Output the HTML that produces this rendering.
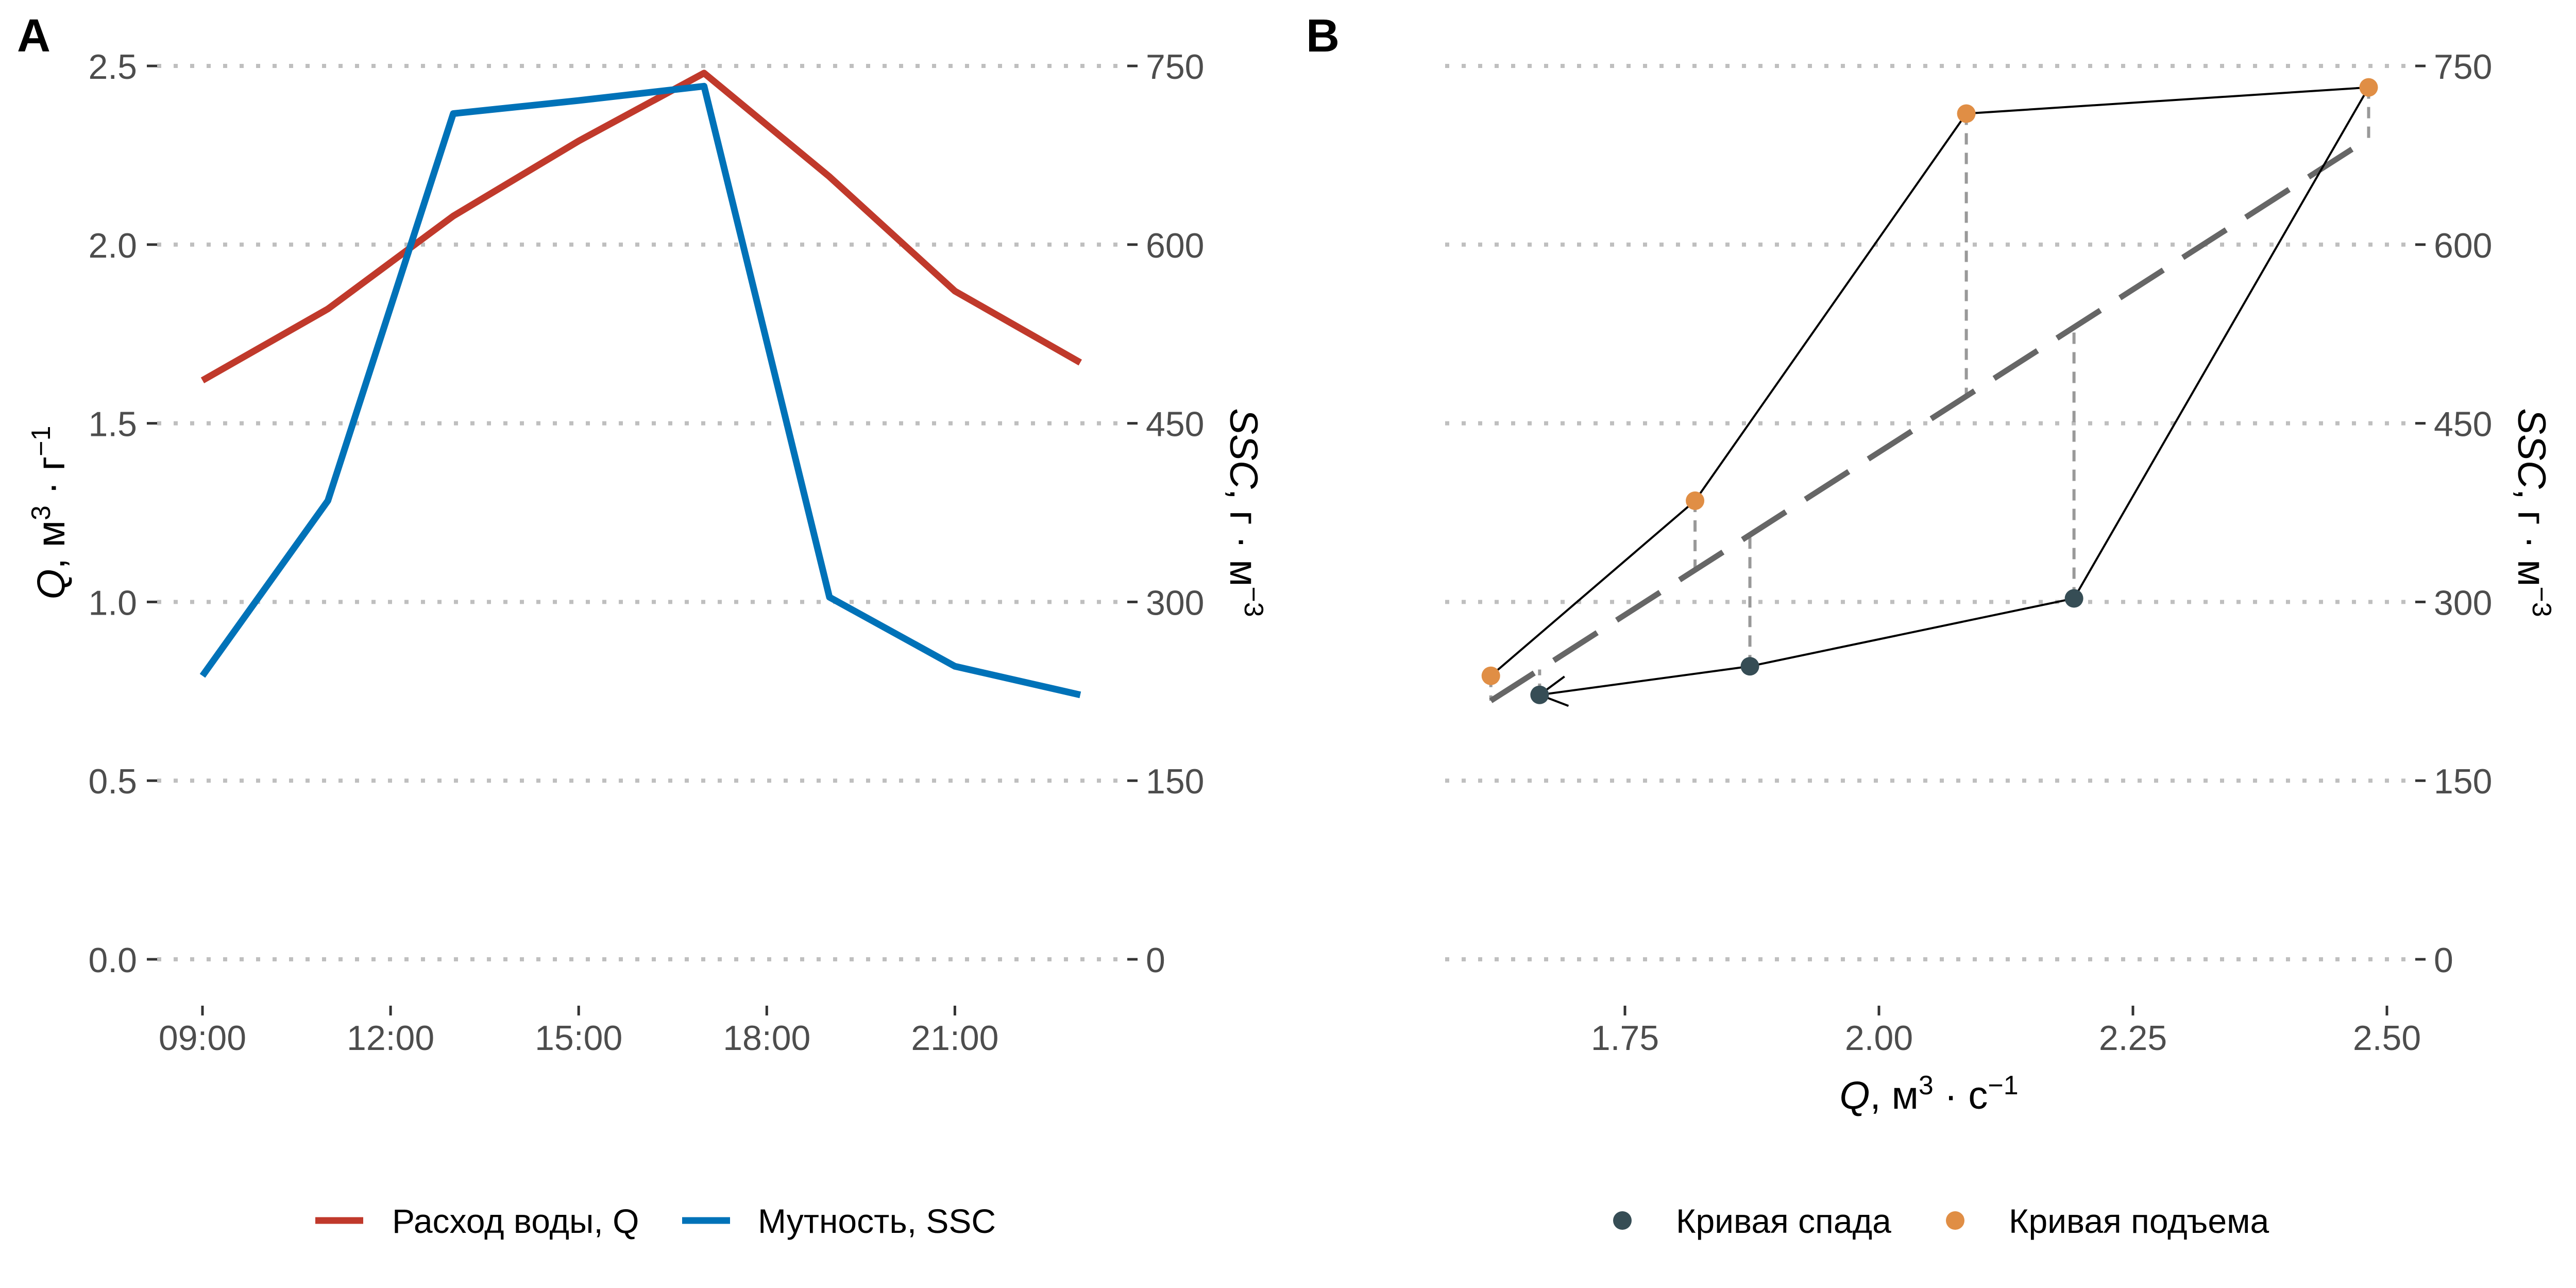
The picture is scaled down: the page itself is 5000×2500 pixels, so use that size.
<!DOCTYPE html>
<html><head><meta charset="utf-8">
<style>
html,body{margin:0;padding:0;background:#fff;}
svg{display:block;font-family:"Liberation Sans","DejaVu Sans",sans-serif;}
</style></head>
<body>
<svg id="chart" width="5000" height="2500" viewBox="0 0 5000 2500" xmlns="http://www.w3.org/2000/svg">
<g id="pa"></g>
<g id="pb"></g>
</svg>
<script>
// ---- data ----
const hours = [9, 11, 13, 15, 17, 19, 21, 23];
const discharge = [1.62, 1.82, 2.08, 2.29, 2.48, 2.19, 1.87, 1.67];
const sscHours = [9, 11, 13, 15, 17, 19, 21, 23];
const ssc = [238, 385, 710, 721, 733, 304, 246, 222];
const timeTicks = [9, 12, 15, 18, 21];
const timeTickLabels = ["09:00", "12:00", "15:00", "18:00", "21:00"];
const qTicks = [0, 0.5, 1.0, 1.5, 2.0, 2.5];
const qTickLabels = ["0.0", "0.5", "1.0", "1.5", "2.0", "2.5"];
const sscTicks = [0, 150, 300, 450, 600, 750];
const hystQ = [1.618, 1.819, 2.086, 2.482, 2.192, 1.873, 1.666];
const hystSSC = [238, 385, 710, 732, 303, 246, 222];
const hystLimb = ["rise", "rise", "rise", "rise", "fall", "fall", "fall"];
const bTicks = [1.75, 2.00, 2.25, 2.50];
const bTickLabels = ["1.75", "2.00", "2.25", "2.50"];

const NS = "http://www.w3.org/2000/svg";
function mk(parent, tag, attrs, text) {
  const e = document.createElementNS(NS, tag);
  for (const k in attrs) e.setAttribute(k, attrs[k]);
  if (text !== undefined) e.textContent = text;
  parent.appendChild(e);
  return e;
}
const yTop = 128, yBot = 1862;
const yQ = q => yBot - (yBot - yTop) * q / 2.5;
const ySSC = s => yQ(s / 300);
const xA = h => 393 + (h - 9) * 121.7;
const xB = q => 3647 + (q - 2.0) * 1972;

function frame(g, off, leftLabels) {
  sscTicks.forEach((s, i) => {
    const y = ySSC(s);
    const gl = mk(g, "line", {x1: off + 305, x2: off + 2172, y1: y, y2: y, stroke: "#bfbfbf", "stroke-width": 8, "stroke-dasharray": "8 24"});
    
    
    const rt = mk(g, "line", {x1: off + 2188, x2: off + 2208, y1: y, y2: y, stroke: "#333", "stroke-width": 5});
    
    
    const rl = mk(g, "text", {x: off + 2224, y: y + 25, "font-size": 68, fill: "#4d4d4d"}, String(s));
    
    
    if (leftLabels) {
      const lt = mk(g, "line", {x1: off + 285, x2: off + 305, y1: y, y2: y, stroke: "#333", "stroke-width": 5});
      
      
      const ll = mk(g, "text", {x: off + 266, y: y + 25, "font-size": 68, fill: "#4d4d4d", "text-anchor": "end"}, qTickLabels[i]);
      
      
    }
  });
  const rtit = mk(g, "text", {transform: `translate(${off + 2388},995) rotate(90)`, "font-size": 76, fill: "#000", "text-anchor": "middle"});
  rtit.innerHTML = '<tspan font-style="italic">SSC</tspan>, г · м<tspan dy="-28" font-size="52">−3</tspan>';
  
  
}

// ---- Panel A ----
const pa = document.getElementById("pa");
const la = mk(pa, "text", {x: 33, y: 100, "font-size": 90, "font-weight": "bold"}, "A");


frame(pa, 0, true);
timeTicks.forEach((h, i) => {
  const t = mk(pa, "line", {x1: xA(h), x2: xA(h), y1: 1952, y2: 1971, stroke: "#333", "stroke-width": 5});
  
  
  const l = mk(pa, "text", {x: xA(h), y: 2038, "font-size": 68, fill: "#4d4d4d", "text-anchor": "middle"}, timeTickLabels[i]);
  
  
});
const ltit = mk(pa, "text", {transform: "translate(125,995) rotate(-90)", "font-size": 76, "text-anchor": "middle"});
ltit.innerHTML = '<tspan font-style="italic">Q</tspan>, м<tspan dy="-28" font-size="52">3</tspan><tspan dy="28"> · г</tspan><tspan dy="-28" font-size="52">−1</tspan>';


const redLine = mk(pa, "polyline", {points: hours.map((h, i) => xA(h) + "," + yQ(discharge[i])).join(" "), fill: "none", stroke: "#c0392b", "stroke-width": 13, "stroke-linejoin": "round"});


const blueLine = mk(pa, "polyline", {points: sscHours.map((h, i) => xA(h) + "," + ySSC(ssc[i])).join(" "), fill: "none", stroke: "#0072b8", "stroke-width": 13, "stroke-linejoin": "round"});


const lg1 = mk(pa, "line", {x1: 612, x2: 705, y1: 2369, y2: 2369, stroke: "#c0392b", "stroke-width": 13});


const lt1 = mk(pa, "text", {x: 761, y: 2393, "font-size": 66}, "Расход воды, Q");


const lg2 = mk(pa, "line", {x1: 1324, x2: 1417, y1: 2369, y2: 2369, stroke: "#0072b8", "stroke-width": 13});


const lt2 = mk(pa, "text", {x: 1471, y: 2393, "font-size": 66}, "Мутность, SSC");



// ---- Panel B ----
const pb = document.getElementById("pb");
const lb = mk(pb, "text", {x: 2535, y: 100, "font-size": 90, "font-weight": "bold"}, "B");


frame(pb, 2500, false);
bTicks.forEach((q, i) => {
  const t = mk(pb, "line", {x1: xB(q), x2: xB(q), y1: 1952, y2: 1971, stroke: "#333", "stroke-width": 5});
  
  
  const l = mk(pb, "text", {x: xB(q), y: 2038, "font-size": 68, fill: "#4d4d4d", "text-anchor": "middle"}, bTickLabels[i]);
  
  
});
const btit = mk(pb, "text", {x: 3744, y: 2152, "font-size": 76, "text-anchor": "middle"});
btit.innerHTML = '<tspan font-style="italic">Q</tspan>, м<tspan dy="-28" font-size="52">3</tspan><tspan dy="28"> · с</tspan><tspan dy="-28" font-size="52">−1</tspan>';


// regression
const n = hystQ.length;
const mx = hystQ.reduce((a, b) => a + b, 0) / n, my = hystSSC.reduce((a, b) => a + b, 0) / n;
let sxx = 0, sxy = 0;
for (let i = 0; i < n; i++) { sxx += (hystQ[i] - mx) ** 2; sxy += (hystQ[i] - mx) * (hystSSC[i] - my); }
const slope = sxy / sxx, icpt = my - slope * mx;
const fit = q => icpt + slope * q;
hystQ.forEach((q, i) => {
  const r = mk(pb, "line", {x1: xB(q), x2: xB(q), y1: ySSC(hystSSC[i]), y2: ySSC(fit(q)), stroke: "#999", "stroke-width": 6, "stroke-dasharray": "22 16"});
  
  
});
const qmin = Math.min(...hystQ), qmax = Math.max(...hystQ);
const reg = mk(pb, "line", {x1: xB(qmin), y1: ySSC(fit(qmin)), x2: xB(qmax), y2: ySSC(fit(qmax)), stroke: "#666", "stroke-width": 11, "stroke-dasharray": "100 45"});


const path = mk(pb, "polyline", {points: hystQ.map((q, i) => xB(q) + "," + ySSC(hystSSC[i])).join(" "), fill: "none", stroke: "#000", "stroke-width": 4});


{
  const x1 = xB(hystQ[n - 2]), y1 = ySSC(hystSSC[n - 2]), x2 = xB(hystQ[n - 1]), y2 = ySSC(hystSSC[n - 1]);
  const a = Math.atan2(y2 - y1, x2 - x1), L = 60;
  const p1 = [x2 - L * Math.cos(a - 0.5), y2 - L * Math.sin(a - 0.5)], p2 = [x2 - L * Math.cos(a + 0.5), y2 - L * Math.sin(a + 0.5)];
  const ah = mk(pb, "polyline", {points: `${p1} ${x2},${y2} ${p2}`, fill: "none", stroke: "#000", "stroke-width": 4});
  
  
}
hystQ.forEach((q, i) => {
  const c = mk(pb, "circle", {cx: xB(q), cy: ySSC(hystSSC[i]), r: 18, fill: hystLimb[i] === "rise" ? "#e08e45" : "#364d55"});
  
  
});
const d1 = mk(pb, "circle", {cx: 3149, cy: 2369, r: 18, fill: "#364d55"});


const t1 = mk(pb, "text", {x: 3253, y: 2393, "font-size": 66}, "Кривая спада");


const d2 = mk(pb, "circle", {cx: 3795, cy: 2369, r: 18, fill: "#e08e45"});


const t2 = mk(pb, "text", {x: 3899, y: 2393, "font-size": 66}, "Кривая подъема");


</script>
</body></html>
